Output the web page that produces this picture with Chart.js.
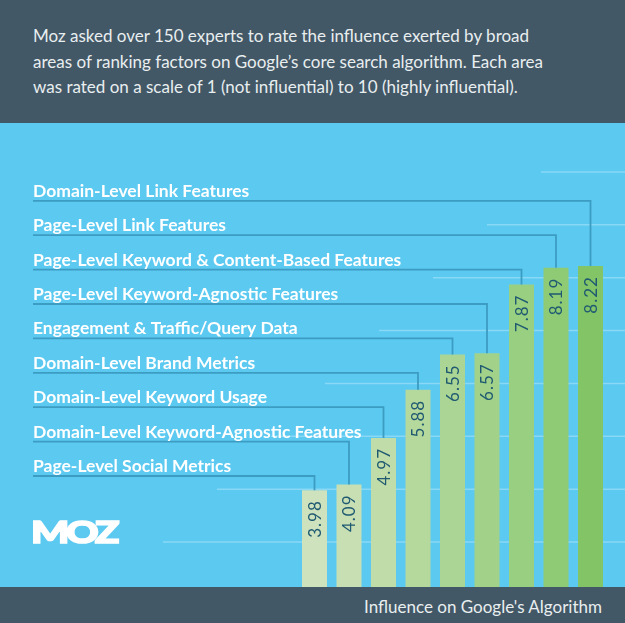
<!DOCTYPE html>
<html>
<head>
<meta charset="utf-8">
<title>Influence on Google's Algorithm</title>
<script src="https://cdn.jsdelivr.net/npm/chart.js@4"></script>
<style>
  html, body { margin: 0; padding: 0; background: #5cc9f1; }
  #wrap { position: relative; width: 625px; height: 623px; overflow: hidden; font-family: Lato, sans-serif; }
  #intro { position: absolute; left: 0; top: 0; width: 625px; height: 123px; background: #425866; color: #e9eef0;
           font-size: 17px; line-height: 25.5px; box-sizing: border-box; padding: 23px 0 0 33px; white-space: nowrap; }
  #footer { position: absolute; left: 0; top: 587px; width: 625px; height: 36px; background: #425866; color: #e9eef0;
            font-size: 17px; line-height: 40px; text-align: right; box-sizing: border-box; padding-right: 23px; }
  #logo { position: absolute; left: 31px; top: 511px; color: #fff; font-weight: 900; font-size: 31px; line-height: 40px;
          letter-spacing: -2.5px; -webkit-text-stroke: 1.6px #fff; transform: scaleX(1.3); transform-origin: left top; }
  canvas { position: absolute; left: 0; top: 0; }
</style>
</head>
<body>
<div id="wrap">
  <div id="intro">Moz asked over 150 experts to rate the influence exerted by broad<br>areas of ranking factors on Google’s core search algorithm. Each area<br>was rated on a scale of 1 (not influential) to 10 (highly influential).</div>
  <div id="footer">Influence on Google's Algorithm</div>
  <canvas id="chart" width="625" height="623"></canvas>
  <div id="logo">MOZ</div>
</div>
<script>
// ---- data ----
const categories = [
    'Page-Level Social Metrics',
    'Domain-Level Keyword-Agnostic Features',
    'Domain-Level Keyword Usage',
    'Domain-Level Brand Metrics',
    'Engagement & Traffic/Query Data',
    'Page-Level Keyword-Agnostic Features',
    'Page-Level Keyword & Content-Based Features',
    'Page-Level Link Features',
    'Domain-Level Link Features'
];
const scores = [3.98, 4.09, 4.97, 5.88, 6.55, 6.57, 7.87, 8.19, 8.22];
const barColors = ['#cee2bd', '#c8dfb4', '#c0dca8', '#b5d89c', '#abd594', '#a2d28a', '#99cf80', '#8fcb75', '#83c566'];
const gridTicks = [3, 4, 5, 6, 7, 8, 9, 10];

// faint lines behind the bars, each one starts further right than the one below
const stepGrid = {
    id: 'stepGrid',
    beforeDatasetsDraw(chart) {
        const ctx = chart.ctx, y = chart.scales.y;
        ctx.save();
        ctx.strokeStyle = 'rgba(255,255,255,0.28)';
        ctx.lineWidth = 1.5;
        gridTicks.forEach((t) => {
            const py = y.getPixelForValue(t);
            ctx.beginPath();
            ctx.moveTo(163 + (t - 3) * 54, py);
            ctx.lineTo(625, py);
            ctx.stroke();
        });
        ctx.restore();
    }
};

// category label + leader line down to its bar, value inside the bar
const barLabels = {
    id: 'barLabels',
    afterDatasetsDraw(chart) {
        const ctx = chart.ctx, bars = chart.getDatasetMeta(0).data;
        ctx.save();
        bars.forEach((bar, i) => {
            const rowY = 476 - i * 34.4;
            ctx.strokeStyle = '#3d9cc2';
            ctx.lineWidth = 1.8;
            ctx.beginPath();
            ctx.moveTo(33, rowY);
            ctx.lineTo(bar.x, rowY);
            ctx.lineTo(bar.x, bar.y);
            ctx.stroke();

            ctx.fillStyle = '#ffffff';
            ctx.font = 'bold 17.5px Lato';
            ctx.textAlign = 'left';
            ctx.textBaseline = 'alphabetic';
            ctx.letterSpacing = '0px';
            ctx.fillText(categories[i], 33, rowY - 4);

            ctx.save();
            ctx.translate(bar.x + 6, bar.y + 10);
            ctx.rotate(-Math.PI / 2);
            ctx.fillStyle = '#1f5a72';
            ctx.font = '17px Lato';
            ctx.textAlign = 'right';
            ctx.letterSpacing = '1px';
            ctx.fillText(scores[i].toFixed(2), 0, 0);
            ctx.restore();
        });
        ctx.restore();
    }
};

new Chart(document.getElementById('chart').getContext('2d'), {
    type: 'bar',
    data: {
        labels: categories,
        datasets: [{
            data: scores,
            backgroundColor: barColors,
            borderWidth: 0,
            barPercentage: 0.725,
            categoryPercentage: 1
        }]
    },
    options: {
        responsive: false,
        animation: false,
        layout: { padding: { left: 297.25, right: 17.25, top: 172, bottom: 36 } },
        plugins: { legend: { display: false }, tooltip: { enabled: false } },
        scales: {
            x: { display: false },
            y: { display: false, min: 2.15, max: 10 }
        }
    },
    plugins: [stepGrid, barLabels]
});
</script>
</body>
</html>
